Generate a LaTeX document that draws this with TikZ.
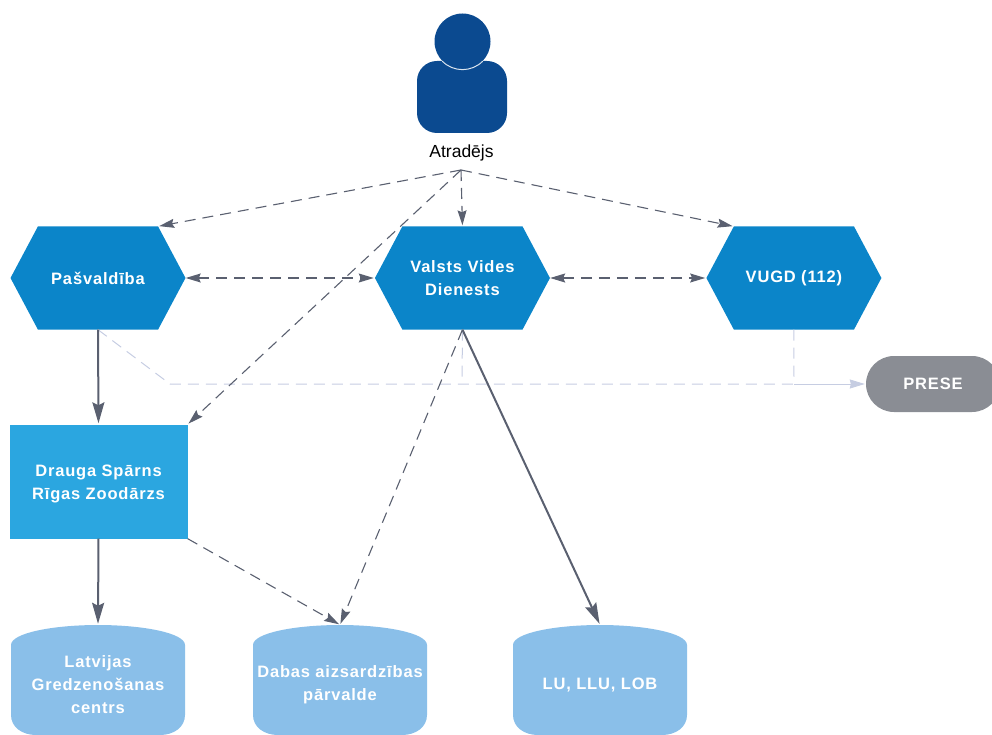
\documentclass[tikz,border=0pt]{standalone}
\usepackage{fontspec}
\setmainfont{Liberation Sans}
\newfontfamily\boxfont[LetterSpace=5]{Liberation Sans}
\usetikzlibrary{arrows.meta,backgrounds,positioning,shapes.symbols,shapes.misc}

\definecolor{personblue}{HTML}{0B4A90}
\definecolor{hexblue}{HTML}{0B85C9}
\definecolor{boxblue}{HTML}{2BA6E0}
\definecolor{storeblue}{HTML}{8ABFE9}
\definecolor{pressgray}{HTML}{8A8D94}
\definecolor{linegray}{HTML}{5A6070}
\definecolor{linepale}{HTML}{C6CDE2}

\tikzset{
  boxtext/.style={text=white,align=center,inner sep=0pt,font=\boxfont\bfseries\fontsize{16.5}{23}\selectfont},
  hexnode/.style={boxtext,shape=signal,signal to=east and west,signal pointer angle=124,fill=hexblue,minimum width=175pt,minimum height=103pt},
  squarenode/.style={boxtext,rectangle,fill=boxblue,minimum width=178pt,minimum height=114pt},
  storenode/.style={boxtext,rectangle,minimum width=174pt,minimum height=120pt},
  pressnode/.style={boxtext,rounded rectangle,fill=pressgray,minimum width=134pt,minimum height=56pt},
  dashflow/.style={-{Stealth[length=15pt,width=9pt,inset=2pt]},linegray,line width=1.1pt,dash pattern=on 11pt off 7pt},
  bothflow/.style={dashflow,{Stealth[length=15pt,width=9pt,inset=2pt]}-{Stealth[length=15pt,width=9pt,inset=2pt]}},
  solidflow/.style={-{Stealth[length=21pt,width=12pt,inset=3pt]},linegray,line width=2pt},
  paleflow/.style={linepale,line width=1pt,dash pattern=on 11pt off 7pt},
}

\begin{document}
\begin{tikzpicture}[x=1pt,y=-1pt,shorten >=1pt,node distance=190pt]
\useasboundingbox (0,0) rectangle (992,735);

% person
\node[rectangle,rounded corners=20pt,fill=personblue,minimum width=90pt,minimum height=72pt,inner sep=0pt] (body) at (462,97) {};
\node[circle,fill=personblue,minimum size=56pt,inner sep=0pt] (head) at (462.5,41.5) {};
\draw[white!85!personblue,line width=1pt,shorten >=0pt] (head.-136) to[bend right=46] (head.-44);
\node[inner sep=0pt,font=\fontsize{17.5}{20}\selectfont] (atradejs) at (461.5,153) {Atradējs};
\coordinate (apex) at (461,170);

% top row
\node[hexnode] (pasv) at (98,278) {Pašvaldība};
\node[hexnode] (vvd) [right=189pt of pasv] {Valsts Vides\\Dienests};
\node[hexnode] (vugd) [right=156pt of vvd] {VUGD (112)};
\node[pressnode] (prese) at (933,384) {PRESE};

% lower nodes
\node[squarenode,text height=40pt] (zoo) at (98.5,481.5) {Drauga Spārns\\Rīgas Zoodārzs};
\node[storenode] (lgc) at (98,685) {Latvijas\\Gredzenošanas\\centrs};
\node[storenode] (dap) at (340,685) {Dabas aizsardzības\\pārvalde};
\node[storenode] (lu) at (600,685) {LU, LLU, LOB};

% store shapes behind their texts
\begin{scope}[on background layer]
\foreach \store in {lgc,dap,lu}
  \fill[storeblue,shift={(\store.center)}]
    (-87,-40) .. controls (-87,-52) and (-45,-60) .. (0,-60)
    .. controls (45,-60) and (87,-52) .. (87,-40) -- (87,30)
    .. controls (87,42) and (76,50) .. (62,50) -- (-62,50)
    .. controls (-76,50) and (-87,42) .. (-87,30) -- cycle;
\end{scope}

% press lines
\coordinate (bend) at (170,384);
\coordinate (vvdjoin) at (462,384);
\coordinate (vugdjoin) at (794,384);
\draw[paleflow] (pasv.south) -- (bend) -- (vugdjoin);
\draw[paleflow] (vvd.south) -- (vvdjoin);
\draw[paleflow] (vugd.south) -- (vugdjoin);
\draw[linepale,line width=1pt,-{Stealth[length=15pt,width=9pt,inset=1pt]}] (vugdjoin) -- (prese.west);

% flows
\path[dashflow] (apex) edge (pasv.north east)
                (apex) edge (vvd.north)
                (apex) edge (vugd.north west)
                (apex) edge (zoo.north east)
                (vvd.south) edge (dap.north)
                (zoo.south east) edge (dap.north);
\path[bothflow] (pasv.east) edge (vvd.west)
                (vvd.east) edge (vugd.west);
\path[solidflow] (pasv.south) edge (zoo.north)
                 (zoo.south) edge (lgc.north)
                 (vvd.south) edge (lu.north);
\end{tikzpicture}
\end{document}
